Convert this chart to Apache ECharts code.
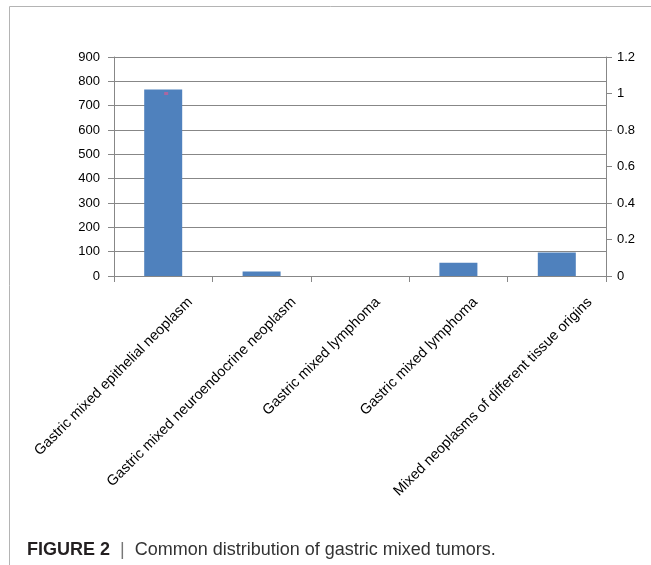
<!DOCTYPE html>
<html><head><meta charset="utf-8">
<script src="https://cdn.jsdelivr.net/npm/echarts@6/dist/echarts.min.js"></script>
<style>html,body{margin:0;padding:0;background:#fff}#c{width:651px;height:565px}</style>
</head><body><div id="c"></div>
<script>
// ---- data ----
const categories = [
  'Gastric mixed epithelial neoplasm',
  'Gastric mixed neuroendocrine neoplasm',
  'Gastric mixed lymphoma',
  'Gastric mixed lymphoma',
  'Mixed neoplasms of different tissue origins'
];
const counts = [766, 19, 0, 54, 97];
const secondary = [1, null, null, null, null];
const leftAxisMin = 0, leftAxisMax = 900, leftAxisStep = 100;
const rightAxisMin = 0, rightAxisMax = 1.2, rightAxisStep = 0.2;
const captionBold = 'FIGURE 2';
const captionText = 'Common distribution of gastric mixed tumors.';

// ---- styles ----
const labelShift = [27, 32, 18, 17, 33]; // horizontal shift of each rotated label (px)
const gray = '#878787';
const fontFam = '"Liberation Sans", Arial, sans-serif';

const catData = categories.map((c, i) => ({
  value: c, textStyle: { padding: [0, -0.707 * labelShift[i], 0, 0] }
}));
const richStyles = {
  t: { fontFamily: fontFam, fontSize: 14.5, color: '#000', lineHeight: 17 }
};
labelShift.forEach((d, i) => {
  richStyles['g' + i] = { fontSize: 1, lineHeight: 1.414 * d };
});

const chart = echarts.init(document.getElementById('c'), null, { renderer: 'canvas' });
chart.setOption({
  animation: false,
  backgroundColor: '#fff',
  grid: { left: 114, right: 45, top: 57, bottom: 289, containLabel: false },
  title: {
    left: 22, top: 536,
    text: '{b|' + captionBold + '}{s|  |  }{r|' + captionText + '}',
    textStyle: {
      rich: {
        b: { fontFamily: fontFam, fontSize: 18, fontWeight: 'bold', color: '#231f20' },
        s: { fontFamily: fontFam, fontSize: 18, fontWeight: 'normal', color: '#777' },
        r: { fontFamily: fontFam, fontSize: 18, fontWeight: 'normal', color: '#333' }
      }
    }
  },
  graphic: [
    { type: 'line', silent: true, shape: { x1: 9.5, y1: 6.5, x2: 651, y2: 6.5 }, style: { stroke: '#b4b4b4', lineWidth: 1 } },
    { type: 'line', silent: true, shape: { x1: 9.5, y1: 6.5, x2: 9.5, y2: 565 }, style: { stroke: '#b4b4b4', lineWidth: 1 } }
  ],
  xAxis: {
    type: 'category',
    data: catData,
    axisLine: { show: true, lineStyle: { color: gray, width: 1 } },
    axisTick: { show: true, length: 6, interval: 0, lineStyle: { color: gray } },
    splitLine: { show: false },
    axisLabel: {
      interval: 0, rotate: 45, margin: 24,
      fontFamily: fontFam, fontSize: 14.5, color: '#000',
      formatter: (value, idx) => '{g' + idx + '| }\n{t|' + value + '}',
      rich: richStyles
    }
  },
  yAxis: [
    {
      type: 'value', position: 'left',
      min: leftAxisMin, max: leftAxisMax, interval: leftAxisStep,
      axisLine: { show: true, lineStyle: { color: gray } },
      axisTick: { show: true, length: 6, lineStyle: { color: gray } },
      splitLine: { show: true, lineStyle: { color: gray, width: 1 } },
      axisLabel: { margin: 14, fontFamily: fontFam, fontSize: 13, color: '#000' }
    },
    {
      type: 'value', position: 'right',
      min: rightAxisMin, max: rightAxisMax, interval: rightAxisStep,
      axisLine: { show: true, lineStyle: { color: gray } },
      axisTick: { show: true, length: 6, lineStyle: { color: gray } },
      splitLine: { show: false },
      axisLabel: { margin: 11, fontFamily: fontFam, fontSize: 13, color: '#000' }
    }
  ],
  series: [
    {
      type: 'bar', yAxisIndex: 0, data: counts, barWidth: 38,
      itemStyle: { color: '#4f81bd' }
    },
    {
      type: 'scatter', yAxisIndex: 1, data: secondary,
      symbol: 'rect', symbolSize: [4, 3], symbolOffset: [3, 0],
      itemStyle: { color: '#c0609a' }
    }
  ]
});
</script>
</body></html>
